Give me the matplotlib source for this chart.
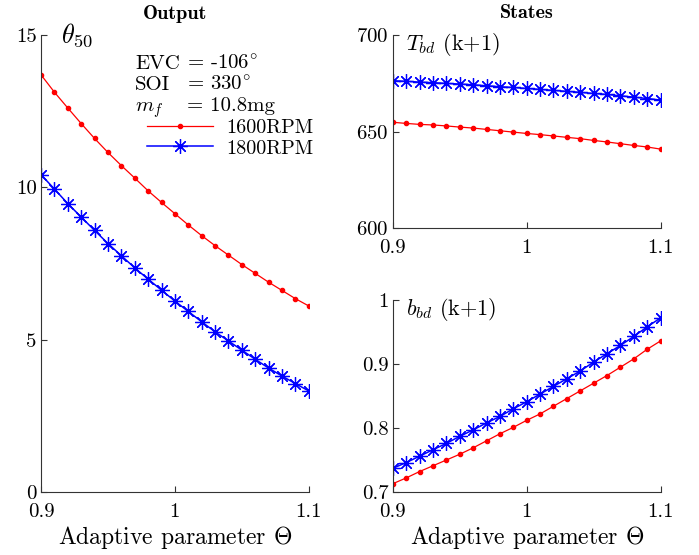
import numpy as np
import matplotlib.pyplot as plt

plt.rcParams['font.family'] = 'cmr10'
plt.rcParams['mathtext.fontset'] = 'cm'
plt.rcParams['axes.formatter.use_mathtext'] = True
plt.rcParams['axes.unicode_minus'] = False

# Adaptive parameter
theta = np.round(np.arange(0.90, 1.1001, 0.01), 2)

# theta_50 output
theta50_1600 = [13.70, 13.13, 12.61, 12.10, 11.61, 11.15, 10.72, 10.31, 9.89, 9.51, 9.14,
                8.77, 8.42, 8.09, 7.78, 7.47, 7.18, 6.89, 6.62, 6.35, 6.11]
theta50_1800 = [10.42, 9.95, 9.47, 9.03, 8.59, 8.16, 7.76, 7.36, 6.99, 6.63, 6.27,
                5.93, 5.59, 5.26, 4.96, 4.66, 4.36, 4.07, 3.81, 3.56, 3.32]

# T_bd(k+1)
Tbd_1600 = [654.8, 654.2, 653.7, 653.4, 652.9, 652.3, 651.8, 651.1, 650.4, 649.7, 649.0,
            648.4, 647.7, 647.0, 646.3, 645.4, 644.6, 643.7, 642.8, 642.0, 640.9]
Tbd_1800 = [676.3, 676.0, 675.6, 675.3, 674.9, 674.6, 674.2, 673.7, 673.2, 672.8, 672.3,
            671.8, 671.3, 670.8, 670.3, 669.7, 669.2, 668.5, 667.8, 667.1, 666.3]

# b_bd(k+1)
bbd_1600 = [0.713, 0.722, 0.732, 0.741, 0.750, 0.759, 0.769, 0.780, 0.791, 0.801, 0.812,
            0.822, 0.834, 0.846, 0.858, 0.870, 0.882, 0.895, 0.908, 0.923, 0.936]
bbd_1800 = [0.737, 0.746, 0.756, 0.766, 0.776, 0.787, 0.797, 0.808, 0.818, 0.830, 0.841,
            0.853, 0.865, 0.877, 0.889, 0.903, 0.916, 0.929, 0.943, 0.958, 0.972]

# operating point annotation
op_names = ['EVC', 'SOI', r'$m_f$']
op_values = [r'= -106$^{\circ}$', r'= 330$^{\circ}$', '= 10.8mg']

red_style = dict(color='#ff0000', marker='.', markersize=6, linewidth=0.9)
blue_style = dict(color='#0000ff', marker=(8, 2, 0), markersize=10.5, markeredgewidth=0.9,
                  linewidth=1.1)

fig = plt.figure(figsize=(6.99, 5.55), dpi=100)
ax1 = fig.add_axes([0.0587, 0.1135, 0.383, 0.823])
ax2 = fig.add_axes([0.562, 0.589, 0.383, 0.348])
ax3 = fig.add_axes([0.562, 0.1135, 0.383, 0.346])


def style_axes(ax):
    for s in ['top', 'right']:
        ax.spines[s].set_visible(False)
    for s in ['left', 'bottom']:
        ax.spines[s].set_color('#333333')
    ax.tick_params(direction='in', labelsize=15, length=4.5, colors='#333333',
                   labelcolor='black', pad=3)
    ax.tick_params(axis='x', pad=8)
    ax.set_xlim(0.9, 1.1)
    ax.set_xticks([0.9, 1.0, 1.1])
    ax.set_xticklabels(['0.9', '1', '1.1'])


# Output panel
ax1.plot(theta, theta50_1600, label='1600RPM', **red_style)
ax1.plot(theta, theta50_1800, label='1800RPM', **blue_style)
style_axes(ax1)
ax1.set_ylim(0, 15)
ax1.set_yticks([0, 5, 10, 15])
ax1.set_yticklabels(['0', '5', '10', '15'])
ax1.set_xlabel(r'Adaptive parameter $\Theta$', fontsize=17, labelpad=2)
ax1.set_title('Output', fontsize=14.5, fontfamily='cmb10', pad=12)
ax1.text(0.075, 1.03, r'$\theta_{50}$', transform=ax1.transAxes, fontsize=19,
         va='top', ha='left')
for i, (name, val) in enumerate(zip(op_names, op_values)):
    yb = 0.926 - i * 0.046
    ax1.text(0.351, yb, name, transform=ax1.transAxes, fontsize=15,
             va='baseline', ha='left')
    ax1.text(0.545, yb, val, transform=ax1.transAxes, fontsize=15,
             va='baseline', ha='left')
ax1.legend(loc='upper left', bbox_to_anchor=(0.358, 0.838), frameon=False, fontsize=14.5,
           handlelength=3.3, handletextpad=0.65, labelspacing=0.1, borderpad=0)

# T_bd panel
ax2.plot(theta, Tbd_1600, **red_style)
ax2.plot(theta, Tbd_1800, **blue_style)
style_axes(ax2)
ax2.set_ylim(600, 700)
ax2.set_yticks([600, 650, 700])
ax2.set_title('States', fontsize=14.5, fontfamily='cmb10', pad=12)
ax2.text(0.05, 1.02, r'$T_{bd}$ (k+1)', transform=ax2.transAxes, fontsize=16,
         va='top', ha='left')

# b_bd panel
ax3.plot(theta, bbd_1600, **red_style)
ax3.plot(theta, bbd_1800, **blue_style)
style_axes(ax3)
ax3.set_ylim(0.7, 1.0)
ax3.set_yticks([0.7, 0.8, 0.9, 1.0])
ax3.set_yticklabels(['0.7', '0.8', '0.9', '1'])
ax3.set_xlabel(r'Adaptive parameter $\Theta$', fontsize=17, labelpad=2)
ax3.text(0.05, 1.02, r'$b_{bd}$ (k+1)', transform=ax3.transAxes, fontsize=16,
         va='top', ha='left')

fig.savefig('out.png', dpi=100)
